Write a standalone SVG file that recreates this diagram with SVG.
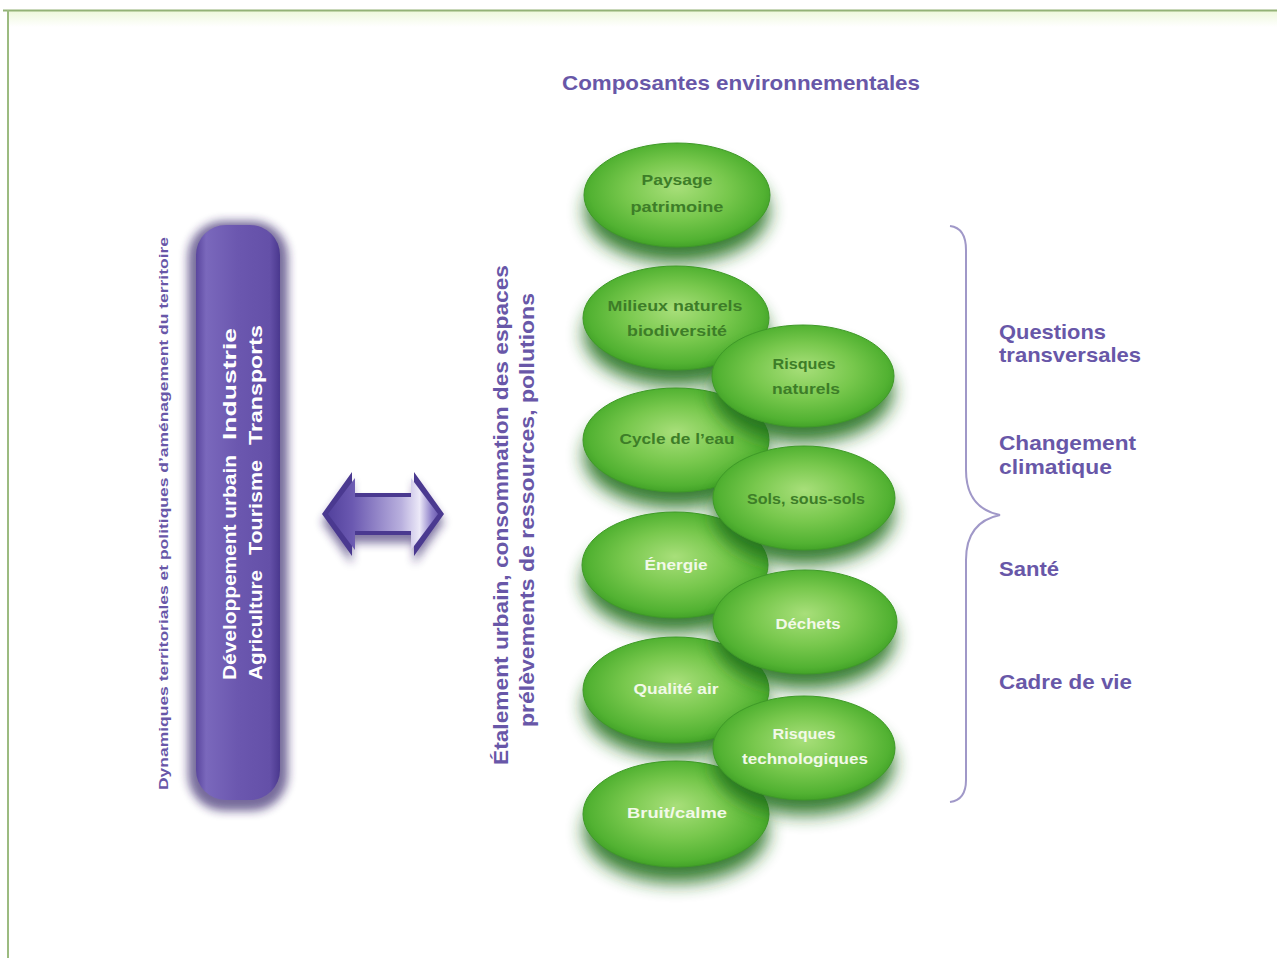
<svg xmlns="http://www.w3.org/2000/svg" width="1277" height="958" viewBox="0 0 1277 958">
<defs>
<style>
.t{font-family:"Liberation Sans",Arial,sans-serif;font-weight:bold}
.pu{fill:#6857a8}
.dg{fill:#3d7d28;font-size:15px}
.wh{fill:#f2f9e8;font-size:15px}
.el{fill:url(#gEl);stroke:#3f9a28;stroke-width:1}
.sh{fill:#23701a;filter:url(#blur);opacity:0.9}
</style>
<radialGradient id="gEl" cx="50%" cy="48%" r="55%" fx="50%" fy="42%">
<stop offset="0" stop-color="#a8df7a"/>
<stop offset="0.5" stop-color="#78c84d"/>
<stop offset="0.85" stop-color="#52b232"/>
<stop offset="1" stop-color="#3c9c24"/>
</radialGradient>
<linearGradient id="gBar" x1="0" y1="0" x2="1" y2="0">
<stop offset="0" stop-color="#5a469e"/>
<stop offset="0.12" stop-color="#7a68bc"/>
<stop offset="0.5" stop-color="#6b57af"/>
<stop offset="0.88" stop-color="#6450a8"/>
<stop offset="1" stop-color="#4a388e"/>
</linearGradient>
<linearGradient id="gBand" x1="0" y1="0" x2="0" y2="1">
<stop offset="0" stop-color="#eef8dc"/>
<stop offset="1" stop-color="#ffffff"/>
</linearGradient>
<linearGradient id="gArrow" gradientUnits="userSpaceOnUse" x1="322" y1="0" x2="444" y2="0">
<stop offset="0" stop-color="#4d3c98"/>
<stop offset="0.25" stop-color="#6b59b1"/>
<stop offset="0.65" stop-color="#b9b0de"/>
<stop offset="0.8" stop-color="#ece9f8"/>
<stop offset="0.9" stop-color="#8c7ec8"/>
<stop offset="1" stop-color="#4d3c98"/>
</linearGradient>
<filter id="blur" x="-30%" y="-30%" width="160%" height="160%"><feGaussianBlur stdDeviation="9"/></filter>
<filter id="pblur" x="-30%" y="-10%" width="160%" height="120%"><feGaussianBlur stdDeviation="5"/></filter>
</defs>

<rect width="1277" height="958" fill="#ffffff"/>
<g id="frame">
<rect x="9" y="11" width="1268" height="16" fill="url(#gBand)"/>
<line x1="3" y1="10.5" x2="1277" y2="10.5" stroke="#93b277" stroke-width="2"/>
<line x1="8" y1="10" x2="8" y2="958" stroke="#9cbb80" stroke-width="2"/>
</g>

<g id="title">
<text class="t pu" x="562" y="90" font-size="21" textLength="358" lengthAdjust="spacingAndGlyphs">Composantes environnementales</text>
</g>

<g id="left-label">
<text class="t pu" font-size="13" transform="translate(168,790) rotate(-90)" textLength="553" lengthAdjust="spacingAndGlyphs">Dynamiques territoriales et politiques d’aménagement du territoire</text>
</g>

<g id="bar">
<rect x="188" y="221" width="100" height="590" rx="36" fill="#2d1f66" filter="url(#pblur)" opacity="0.65"/>
<rect x="196" y="225" width="84" height="575" rx="30" fill="url(#gBar)"/>
<g class="t" fill="#ffffff" font-size="19">
<text transform="translate(236,680) rotate(-90)" textLength="225" lengthAdjust="spacingAndGlyphs">Développement urbain</text>
<text transform="translate(236,440) rotate(-90)" textLength="112" lengthAdjust="spacingAndGlyphs">Industrie</text>
<text transform="translate(262,680) rotate(-90)" textLength="110" lengthAdjust="spacingAndGlyphs">Agriculture</text>
<text transform="translate(262,555) rotate(-90)" textLength="95" lengthAdjust="spacingAndGlyphs">Tourisme</text>
<text transform="translate(262,445) rotate(-90)" textLength="120" lengthAdjust="spacingAndGlyphs">Transports</text>
</g>
</g>

<g id="connectors">
<g id="double-arrow">
<polygon points="322,516 352,474 352,495 414,495 414,474 444,516 414,558 414,537 352,537 352,558" fill="#2d1f66" filter="url(#pblur)" opacity="0.6" transform="translate(0,6)"/>
<polygon points="322,514 352,472 352,493 414,493 414,472 444,514 414,556 414,535 352,535 352,556" fill="#4a3990"/>
<polygon points="328,514 355,478 355,497 411,497 411,478 438,514 411,550 411,531 355,531 355,550" fill="url(#gArrow)"/>
</g>
</g>

<g id="center-label" class="t pu" font-size="21">
<text transform="translate(508,765) rotate(-90)" textLength="500" lengthAdjust="spacingAndGlyphs">Étalement urbain, consommation des espaces</text>
<text transform="translate(534,727) rotate(-90)" textLength="434" lengthAdjust="spacingAndGlyphs">prélèvements de ressources, pollutions</text>
</g>

<g id="n-paysage">
<ellipse class="sh" cx="677" cy="211" rx="92" ry="52"/>
<ellipse class="el" cx="677" cy="195" rx="93" ry="52"/>
<text class="t dg" x="677" y="185" text-anchor="middle" textLength="71" lengthAdjust="spacingAndGlyphs">Paysage</text>
<text class="t dg" x="677" y="212" text-anchor="middle" textLength="93" lengthAdjust="spacingAndGlyphs">patrimoine</text>
</g>
<g id="n-milieux">
<ellipse class="sh" cx="676" cy="334" rx="92" ry="52"/>
<ellipse class="el" cx="676" cy="318" rx="93" ry="52"/>
<text class="t dg" x="675" y="311" text-anchor="middle" textLength="135" lengthAdjust="spacingAndGlyphs">Milieux naturels</text>
<text class="t dg" x="677" y="336" text-anchor="middle" textLength="100" lengthAdjust="spacingAndGlyphs">biodiversité</text>
</g>
<g id="n-cycle">
<ellipse class="sh" cx="676" cy="456" rx="92" ry="52"/>
<ellipse class="el" cx="676" cy="440" rx="93" ry="52"/>
<text class="t dg" x="677" y="444" text-anchor="middle" textLength="115" lengthAdjust="spacingAndGlyphs">Cycle de l’eau</text>
</g>
<g id="n-energie">
<ellipse class="sh" cx="675" cy="581" rx="92" ry="52"/>
<ellipse class="el" cx="675" cy="565" rx="93" ry="53"/>
<text class="t wh" x="676" y="570" text-anchor="middle" textLength="63" lengthAdjust="spacingAndGlyphs">Énergie</text>
</g>
<g id="n-qualite">
<ellipse class="sh" cx="676" cy="706" rx="92" ry="52"/>
<ellipse class="el" cx="676" cy="690" rx="93" ry="53"/>
<text class="t wh" x="676" y="694" text-anchor="middle" textLength="85" lengthAdjust="spacingAndGlyphs">Qualité air</text>
</g>
<g id="n-bruit">
<ellipse class="sh" cx="676" cy="831" rx="92" ry="52"/>
<ellipse class="el" cx="676" cy="814" rx="93" ry="53"/>
<text class="t wh" x="677" y="818" text-anchor="middle" textLength="100" lengthAdjust="spacingAndGlyphs">Bruit/calme</text>
</g>
<g id="n-risques-naturels">
<ellipse class="sh" cx="803" cy="392" rx="90" ry="51"/>
<ellipse class="el" cx="803" cy="376" rx="91" ry="51"/>
<text class="t dg" x="804" y="369" text-anchor="middle" textLength="63" lengthAdjust="spacingAndGlyphs">Risques</text>
<text class="t dg" x="806" y="394" text-anchor="middle" textLength="68" lengthAdjust="spacingAndGlyphs">naturels</text>
</g>
<g id="n-sols">
<ellipse class="sh" cx="804" cy="514" rx="90" ry="51"/>
<ellipse class="el" cx="804" cy="498" rx="91" ry="52"/>
<text class="t dg" x="806" y="504" text-anchor="middle" textLength="118" lengthAdjust="spacingAndGlyphs">Sols, sous-sols</text>
</g>
<g id="n-dechets">
<ellipse class="sh" cx="805" cy="638" rx="90" ry="51"/>
<ellipse class="el" cx="805" cy="622" rx="92" ry="52"/>
<text class="t wh" x="808" y="629" text-anchor="middle" textLength="65" lengthAdjust="spacingAndGlyphs">Déchets</text>
</g>
<g id="n-risques-tech">
<ellipse class="sh" cx="804" cy="764" rx="90" ry="51"/>
<ellipse class="el" cx="804" cy="748" rx="91" ry="52"/>
<text class="t wh" x="804" y="739" text-anchor="middle" textLength="63" lengthAdjust="spacingAndGlyphs">Risques</text>
<text class="t wh" x="805" y="764" text-anchor="middle" textLength="126" lengthAdjust="spacingAndGlyphs">technologiques</text>
</g>

<g id="brace">
<path d="M950,226 Q966,228 966,250 L966,470 Q966,508 1000,515 Q966,522 966,560 L966,780 Q966,800 950,802" fill="none" stroke="#a098c8" stroke-width="2"/>
</g>

<g id="right-labels" class="t pu" font-size="21">
<text x="999" y="339" textLength="107" lengthAdjust="spacingAndGlyphs">Questions</text>
<text x="999" y="362" textLength="142" lengthAdjust="spacingAndGlyphs">transversales</text>
<text x="999" y="450" textLength="137" lengthAdjust="spacingAndGlyphs">Changement</text>
<text x="999" y="474" textLength="113" lengthAdjust="spacingAndGlyphs">climatique</text>
<text x="999" y="576" textLength="60" lengthAdjust="spacingAndGlyphs">Santé</text>
<text x="999" y="689" textLength="133" lengthAdjust="spacingAndGlyphs">Cadre de vie</text>
</g>
</svg>
